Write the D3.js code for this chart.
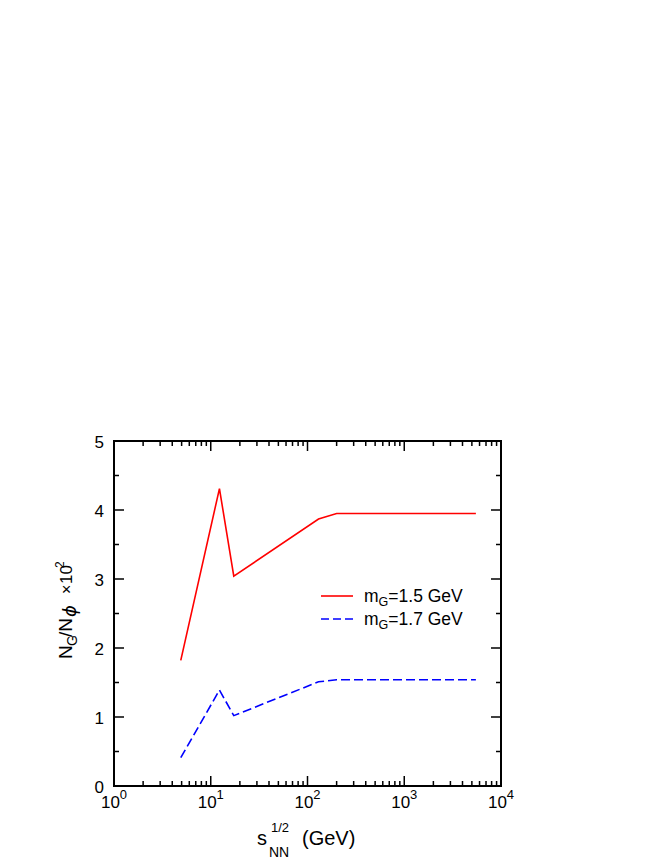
<!DOCTYPE html>
<html><head><meta charset="utf-8">
<script src="https://cdn.jsdelivr.net/npm/d3@7"></script>
<style>body{margin:0;background:#fff}</style>
</head><body>
<svg id="c" width="664" height="860"></svg>
<script>
const energies = [4.9, 12.3, 17.3, 130, 200, 5500];
const ratio15 = [1.82, 4.31, 3.04, 3.87, 3.95, 3.95];
const ratio17 = [0.41, 1.39, 1.02, 1.51, 1.54, 1.54];
const seriesNames = ["1.5 GeV", "1.7 GeV"];
const xTickPowers = [0, 1, 2, 3, 4];
const yTicks = [0, 1, 2, 3, 4, 5];

const svg = d3.select("#c");
const L = 114, R = 501, T = 441, B = 786;
const x = d3.scaleLog().domain([1, 1e4]).range([L, R]);
const y = d3.scaleLinear().domain([0, 5]).range([B, T]);
const font = "Liberation Sans, Arial, Helvetica, sans-serif";

const g = svg.append("g");
// ticks
const minorX = [];
for (let p = 0; p < 4; p++) for (let m = 2; m <= 9; m++) minorX.push(m * Math.pow(10, p));
const minorY = d3.range(0.5, 5, 1);
const tk = g.append("g").attr("stroke", "#000").attr("stroke-width", 1.5);
minorX.forEach(v => {
  tk.append("line").attr("x1", x(v)).attr("x2", x(v)).attr("y1", B).attr("y2", B - 5);
  tk.append("line").attr("x1", x(v)).attr("x2", x(v)).attr("y1", T).attr("y2", T + 5);
});
xTickPowers.forEach(p => {
  const v = Math.pow(10, p);
  tk.append("line").attr("x1", x(v)).attr("x2", x(v)).attr("y1", B).attr("y2", B - 10);
  tk.append("line").attr("x1", x(v)).attr("x2", x(v)).attr("y1", T).attr("y2", T + 10);
});
minorY.forEach(v => {
  tk.append("line").attr("x1", L).attr("x2", L + 5).attr("y1", y(v)).attr("y2", y(v));
  tk.append("line").attr("x1", R).attr("x2", R - 5).attr("y1", y(v)).attr("y2", y(v));
});
yTicks.forEach(v => {
  tk.append("line").attr("x1", L).attr("x2", L + 10).attr("y1", y(v)).attr("y2", y(v));
  tk.append("line").attr("x1", R).attr("x2", R - 10).attr("y1", y(v)).attr("y2", y(v));
});
g.append("rect").attr("x", L).attr("y", T).attr("width", R - L).attr("height", B - T)
  .attr("fill", "none").attr("stroke", "#000").attr("stroke-width", 2);

// tick labels
yTicks.forEach(v => {
  g.append("text").attr("x", L - 10).attr("y", y(v) + 7).attr("text-anchor", "end")
    .attr("font-family", font).attr("font-size", 17).text(v);
});
xTickPowers.forEach(p => {
  const t = g.append("text").attr("x", x(Math.pow(10, p))).attr("y", 808).attr("text-anchor", "middle")
    .attr("font-family", font).attr("font-size", 17);
  t.append("tspan").text("10");
  t.append("tspan").attr("dy", -9).attr("font-size", 13).text(p);
});

// x title
const xt = g.append("text").attr("y", 845).attr("font-family", font).attr("font-size", 20);
xt.append("tspan").attr("x", 257).text("s");
xt.append("tspan").attr("x", 269).attr("y", 857).attr("font-size", 14).text("NN");
xt.append("tspan").attr("x", 271).attr("y", 832).attr("font-size", 13).text("1/2");
xt.append("tspan").attr("x", 302).attr("y", 845).text("(GeV)");

// y title (rotated: u = -screenY)
const yt = g.append("text").attr("transform", "translate(72,0) rotate(-90)")
  .attr("font-family", font).attr("font-size", 19);
yt.append("tspan").attr("x", -659).attr("y", 0).text("N");
yt.append("tspan").attr("x", -646).attr("y", 5).attr("font-size", 14).text("G");
yt.append("tspan").attr("x", -637).attr("y", 0).text("/N");
yt.append("tspan").attr("x", -617).attr("y", 4).attr("font-size", 18)
  .attr("font-family", "DejaVu Sans").attr("font-style", "italic").attr("font-weight", "normal").text("ϕ");
yt.append("tspan").attr("x", -594).attr("y", 0).attr("font-size", 16).text("×");
yt.append("tspan").attr("x", -584).attr("y", 0).attr("font-size", 17).text("10");
yt.append("tspan").attr("x", -568).attr("y", -8).attr("font-size", 12).text("2");

// lines
const line = d3.line().x((d, i) => x(energies[i])).y(d => y(d));
g.append("path").datum(ratio15).attr("d", line).attr("fill", "none")
  .attr("stroke", "#ff0000").attr("stroke-width", 1.6);
g.append("path").datum(ratio17).attr("d", line).attr("fill", "none")
  .attr("stroke", "#0000ff").attr("stroke-width", 1.6).attr("stroke-dasharray", "9,4");

// legend
const leg = [{c: "#ff0000", d: null, y: 596, n: seriesNames[0]}, {c: "#0000ff", d: "8,4", y: 619, n: seriesNames[1]}];
leg.forEach(e => {
  const l = g.append("line").attr("x1", 321).attr("x2", 353).attr("y1", e.y).attr("y2", e.y)
    .attr("stroke", e.c).attr("stroke-width", 1.6);
  if (e.d) l.attr("stroke-dasharray", e.d);
  const t = g.append("text").attr("x", 364).attr("y", e.y + 6).attr("font-family", font).attr("font-size", 17.5);
  t.append("tspan").text("m");
  t.append("tspan").attr("dy", 4).attr("font-size", 12.5).text("G");
  t.append("tspan").attr("dy", -4).text("=" + e.n);
});
</script>
</body></html>
